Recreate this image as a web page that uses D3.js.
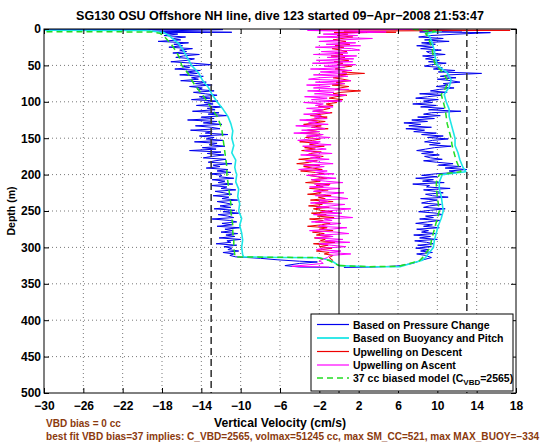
<!DOCTYPE html>
<html><head><meta charset="utf-8">
<script src="https://cdn.jsdelivr.net/npm/d3@7"></script>
<style>
body{margin:0;background:#fff;}
svg{display:block;font-family:"Liberation Sans",Arial,Helvetica,sans-serif;}
</style></head><body>
<svg id="chart" width="560" height="442"></svg>
<script>
// ---------- tick labels / axes ----------
const xTicks = [-30,-26,-22,-18,-14,-10,-6,-2,2,6,10,14,18];
const yTicks = [0,50,100,150,200,250,300,350,400,450,500];
const refLines = [-13,13];   // dashed reference velocities
const zeroLine = [0];

// ---------- depth grids (m) ----------
const gridDepth = [5,7,9,11,13,15,17,19,21,23,
25,27,29,31,33,35,37,39,41,43,
45,47,49,51,53,55,57,59,61,63,
65,67,69,71,73,75,77,79,81,83,
85,87,89,91,93,95,97,99,101,103,
105,107,109,111,113,115,117,119,121,123,
125,127,129,131,133,135,137,139,141,143,
145,147,149,151,153,155,157,159,161,163,
165,167,169,171,173,175,177,179,181,183,
185,187,189,191,193,195,197,199,201,203,
205,207,209,211,213,215,217,219,221,223,
225,227,229,231,233,235,237,239,241,243,
245,247,249,251,253,255,257,259,261,263,
265,267,269,271,273,275,277,279,281,283,
285,287,289,291,293,295,297,299,301,303,
305,307,309,311];
const coarseDepth = [10,20,30,40,50,60,70,80,90,100,110,120,130,140,150,160,170,180,190,196,200,210,220,230,240,250,260,270,280,290,300,310];

// ---------- Based on Pressure Change (cm/s) ----------
const blueDown = [-18.2,-16.4,-17.8,-15.6,-17.0,-16.1,-18.4,-15.3,-16.8,-15.9,
-17.3,-14.9,-16.2,-15.5,-16.9,-14.2,-15.8,-16.6,-14.7,-15.4,
-17.1,-14.8,-13.0,-15.9,-15.2,-16.7,-14.1,-15.5,-14.4,-16.2,
-13.8,-15.0,-14.3,-16.1,-13.5,-14.6,-12.9,-15.2,-13.9,-14.4,
-12.7,-14.8,-13.6,-12.4,-14.2,-13.1,-15.0,-12.3,-13.7,-12.8,
-14.5,-11.9,-13.4,-12.6,-14.9,-12.2,-13.3,-11.4,-14.0,-12.7,
-15.4,-12.4,-13.8,-11.9,-14.6,-13.0,-12.1,-15.1,-12.9,-13.6,
-11.3,-14.2,-12.7,-13.5,-11.8,-14.7,-12.4,-13.2,-11.6,-13.9,
-12.5,-15.2,-12.0,-13.4,-11.7,-12.9,-13.8,-11.5,-12.6,-13.3,
-10.9,-12.8,-12.1,-13.5,-11.3,-12.4,-11.0,-13.1,-11.9,-12.2,
-10.7,-12.9,-11.6,-12.3,-10.8,-13.0,-11.4,-12.0,-10.5,-12.6,
-11.7,-10.9,-12.8,-11.2,-11.9,-10.3,-12.4,-11.5,-10.8,-12.1,
-11.0,-12.7,-10.6,-11.8,-10.2,-12.3,-11.3,-10.7,-12.9,-11.1,
-10.4,-11.9,-10.9,-12.4,-10.1,-11.6,-10.8,-12.0,-10.3,-11.5,
-10.6,-12.2,-10.0,-11.4,-11.0,-12.5,-10.4,-11.7,-10.9,-11.3,
-10.2,-11.8,-10.7,-11.1];
const blueUp = [15.4,12.0,9.3,8.1,10.6,8.7,11.2,8.4,9.8,7.9,
9.6,8.3,10.4,8.9,9.2,10.8,8.5,9.7,8.8,10.2,
9.1,10.9,9.4,8.7,10.5,9.6,11.8,10.1,14.5,11.2,
10.3,11.9,10.0,11.4,12.3,10.6,11.1,9.9,11.7,10.2,
9.3,11.0,8.2,10.4,9.0,7.8,10.1,8.6,9.5,7.5,
9.9,8.3,10.7,9.1,12.4,9.4,8.6,10.3,8.0,9.7,
7.4,9.0,6.6,8.3,7.1,9.4,6.8,8.7,7.6,9.9,
8.4,10.6,9.0,11.1,9.5,8.7,10.3,9.2,11.4,9.7,
8.8,7.9,9.6,8.4,10.2,8.7,9.3,10.5,8.6,9.9,
11.6,10.1,12.4,10.8,13.0,11.2,12.0,9.8,8.4,10.0,
7.8,9.6,8.5,10.7,7.5,9.2,8.9,11.3,8.6,9.8,
10.6,8.8,9.5,11.1,8.3,10.0,9.1,8.4,10.4,9.2,
8.6,10.8,9.3,8.1,9.9,10.5,8.8,9.6,8.2,10.3,
9.0,7.8,9.5,8.6,10.2,7.9,9.1,8.4,9.8,7.6,
9.3,8.2,10.0,7.7,8.9,9.6,8.0,9.4,7.8,9.1,
8.3,9.5,7.9,8.8];
const blueDownTop = [[0.5,-45],[0.8,-11.8],[3,-19.0],[4.5,-10.9]];
const blueDownBottom = [[313,-10.5],[315,-8.0],[317,-6.3],[319,-4.0],[320,-2.2],[322,-4.0],[325,-5.5],[327,-4.0],[327.5,-0.5]];
const blueUpTop = [[0,-4.0],[1,9.5],[2.5,12.5],[4,8.2]];
const blueUpBottom = [[314,9.4],[318,8.3],[322,7.5],[325.5,6.0],[327,3.5],[327.5,0.5]];

// ---------- Based on Buoyancy and Pitch (cm/s) ----------
const cyanDown = [-17.2,-16.3,-15.8,-15.4,-15.0,-14.3,-13.9,-13.3,-12.9,-12.4,-11.8,-11.3,-11.0,-10.8,-10.9,-10.7,-10.9,-10.5,-10.6,-10.5,-10.4,-10.5,-10.2,-10.3,-10.1,-10.2,-9.9,-10.1,-9.9,-9.8,-9.9,-9.8];
const cyanUp = [9.2,9.5,9.7,9.8,10.0,11.0,11.4,11.2,10.7,10.9,11.2,11.2,11.4,11.6,11.8,11.8,12.1,12.3,12.6,12.9,10.5,10.2,10.2,10.4,10.5,10.6,10.4,10.1,9.9,9.7,9.6,9.0];
const cyanDownTop = [[1.5,-45],[2,-19.5],[5,-17.8]];
const cyanDownBottom = [[313,-9.7],[313.8,-6],[314.2,-2],[318,-0.8],[325,0]];
const cyanUpTop = [[0.5,8.0],[3,10.4],[6,8.8]];
const cyanUpBottom = [[314,8.8],[318,8.4],[322,7.3],[326.5,6.2],[326.5,3.0],[325,0]];

// ---------- Upwelling on Descent / Ascent (cm/s) ----------
const redDown = [-0.5,0.9,-0.2,1.4,0.3,-0.6,0.7,-0.1,1.1,-0.4,
0.5,-0.7,0.2,0.8,-0.4,0.4,-0.8,0.6,-0.1,1.0,
-0.5,0.4,-0.2,1.3,0.1,-0.4,0.9,0.3,2.6,-0.1,
0.7,-0.6,0.4,1.2,-0.3,0.6,-0.7,1.0,0.1,-0.4,
2.2,0.2,-0.6,0.8,-0.3,-1.0,0.4,-0.8,-0.2,-1.3,
-0.6,-2.1,-0.9,-1.6,-2.6,-0.7,-1.8,-2.9,-1.2,-2.2,
-3.3,-1.4,-2.5,-3.6,-1.8,-2.8,-1.1,-3.2,-2.0,-3.9,
-1.7,-2.6,-3.4,-1.9,-2.7,-4.0,-2.1,-3.0,-1.5,-3.5,
-2.4,-3.8,-1.8,-2.9,-3.3,-1.6,-2.5,-4.1,-2.2,-3.0,
-4.3,-2.0,-3.6,-2.7,-1.7,-3.9,-2.4,-1.5,-3.1,-2.2,
-1.2,-2.8,-1.9,-3.4,-0.9,-2.3,-1.6,-3.0,-1.1,-2.5,
-1.8,-3.2,-0.8,-2.1,-1.4,-2.9,-0.6,-2.4,-1.7,-3.1,
-1.0,-2.6,-1.9,-0.7,-2.8,-1.3,-2.2,-0.5,-3.0,-1.6,
-2.4,-0.9,-1.8,-3.2,-1.2,-2.0,-0.6,-2.7,-1.5,-2.3,
-0.8,-2.5,-1.4,-1.9,-0.4,-2.6,-1.1,-2.0,-0.7,-1.7,
-2.3,-0.9,-1.5,-0.6];
const magentaUp = [2.8,-1.6,1.9,-2.2,3.4,0.2,-2.0,1.7,-1.3,2.2,
-2.4,1.3,2.1,-1.8,0.9,-2.6,1.8,-1.2,1.5,-2.3,
1.4,-2.7,1.7,-1.5,0.6,-2.9,1.3,-1.9,0.8,-2.6,
0.9,-2.0,-3.1,1.2,-2.4,0.6,-3.3,-0.9,-2.6,1.0,
-3.2,-0.5,-2.5,0.7,-3.5,-1.2,-2.8,0.3,-3.6,-1.6,
-2.4,-0.6,-3.3,-1.6,-2.7,-0.9,-3.6,-1.8,-2.5,-1.2,
-4.0,-2.2,-3.1,-1.1,-4.4,-2.5,-1.4,-3.8,-2.0,-4.6,
-1.6,-3.3,-0.9,-2.8,-4.2,-1.9,-3.0,-0.8,-3.7,-2.3,
-1.3,-3.5,-2.6,-0.7,-3.9,-1.8,-2.9,-1.0,-3.4,-2.2,
-0.6,-3.6,-1.5,-2.7,-4.1,-1.2,-2.4,-0.5,-3.3,-1.9,
-0.3,-2.8,-1.4,0.4,-2.5,-1.0,-3.0,0.1,-1.7,-2.6,
0.5,-1.3,-2.4,-0.2,0.9,-2.0,-1.1,-2.9,0.6,-0.8,
-2.3,1.2,-0.5,-1.8,0.3,-2.6,-0.1,1.4,-1.5,-0.7,
-2.8,0.2,-1.2,-2.1,0.8,-0.9,-3.0,-0.3,1.0,-1.9,
-0.6,-2.4,0.4,-1.4,1.1,-2.0,-0.8,0.7,-1.6,-2.3,
0.2,-1.0,1.2,-0.9];
const redDownTop = [[0.5,-2.0],[1.8,17.4],[3,0.5],[4.5,5.8]];
const redDownBottom = [[314,-1.0],[318,-0.6]];
const magentaUpTop = [[0.3,9.0],[2,-3.2],[4,4.8]];
const magentaUpBottom = [[314,-1.2],[318,-2.0],[322,-1.6],[326,-4.8],[327,-1.0]];

// ---------- 37 cc biased model (cm/s) ----------
const greenDown = [-17.8,-17.1,-16.6,-16.2,-16.0,-15.4,-15.0,-14.5,-13.9,-13.4,-12.9,-12.4,-12.1,-11.9,-11.8,-11.7,-11.6,-11.5,-11.4,-11.4,-11.4,-11.3,-11.2,-11.1,-11.0,-11.0,-10.9,-10.8,-10.8,-10.7,-10.7,-10.6];
const greenUp = [9.0,9.3,9.5,9.6,9.8,10.6,11.0,10.9,10.4,10.6,10.8,10.9,11.0,11.2,11.4,11.5,11.7,11.9,12.2,12.4,10.2,9.9,9.9,10.0,10.1,10.2,10.0,9.8,9.6,9.4,9.3,8.7];
const greenDownTop = [[3.5,-45],[4,-19.0],[6,-18.2]];
const greenDownBottom = [[313,-10.6],[313.6,-6],[314,-2.2],[318,-1.0],[325,0]];
const greenUpTop = [[0.5,7.5],[3,9.8],[6,8.8]];
const greenUpBottom = [[314,8.5],[318,8.2],[322,7.2],[326,6.0],[326.5,3.0],[325,0]];

const legendLabels = ["Based on Pressure Change","Based on Buoyancy and Pitch","Upwelling on Descent","Upwelling on Ascent"];
const titleText = "SG130 OSU Offshore NH line, dive 123 started 09\u2212Apr\u22122008 21:53:47";
const note1 = "VBD bias = 0 cc";
const note2 = "best fit VBD bias=37 implies: C_VBD=2565, volmax=51245 cc, max SM_CC=521, max MAX_BUOY=\u2212334";

// ---------- layout ----------
const L=44, R=516, T=29, B=393;
const x = d3.scaleLinear().domain([-30,18]).range([L,R]);
const y = d3.scaleLinear().domain([0,500]).range([T,B]);
const fmt = v => (v<0 ? "\u2212"+Math.abs(v) : String(v));

const svg = d3.select("#chart");
svg.append("rect").attr("width",560).attr("height",442).attr("fill","#fff");
svg.append("defs").append("clipPath").attr("id","clip")
  .append("rect").attr("x",L).attr("y",T).attr("width",R-L).attr("height",B-T);

// grid
const grid = svg.append("g");
grid.selectAll("line.v").data(xTicks.filter(v=>v>-30&&v<18)).enter().append("line")
  .attr("x1",d=>x(d)).attr("x2",d=>x(d)).attr("y1",T).attr("y2",B)
  .attr("stroke","#555").attr("stroke-width",0.8).attr("stroke-dasharray","1,3");
grid.selectAll("line.h").data(yTicks.filter(v=>v>0&&v<500)).enter().append("line")
  .attr("x1",L).attr("x2",R).attr("y1",d=>y(d)).attr("y2",d=>y(d))
  .attr("stroke","#555").attr("stroke-width",0.8).attr("stroke-dasharray","1,3");

function build(top, vals, depths, bottom){
  return top.concat(depths.map((d,i)=>[d, vals[i]]), bottom);
}
const line = d3.line().x(p=>x(p[1])).y(p=>y(p[0]));
const series = [
  {pts: build(blueDownTop, blueDown, gridDepth, blueDownBottom), color:"#0000ee", w:1},
  {pts: build(blueUpTop, blueUp, gridDepth, blueUpBottom), color:"#0000ee", w:1},
  {pts: build(cyanDownTop, cyanDown, coarseDepth, cyanDownBottom), color:"#1ee6e6", w:1.6},
  {pts: build(cyanUpTop, cyanUp, coarseDepth, cyanUpBottom), color:"#1ee6e6", w:1.6},
  {pts: build(redDownTop, redDown, gridDepth, redDownBottom), color:"#ee0000", w:1},
  {pts: build(magentaUpTop, magentaUp, gridDepth, magentaUpBottom), color:"#ff00ff", w:1},
  {pts: build(greenDownTop, greenDown, coarseDepth, greenDownBottom), color:"#22dd22", w:1.5, dash:"6,4"},
  {pts: build(greenUpTop, greenUp, coarseDepth, greenUpBottom), color:"#22dd22", w:1.5, dash:"6,4"}
];
const dataG = svg.append("g").attr("clip-path","url(#clip)");
series.forEach(s=>{
  dataG.append("path").attr("d", line(s.pts)).attr("fill","none")
    .attr("stroke", s.color).attr("stroke-width", s.w)
    .attr("stroke-dasharray", s.dash||null).attr("stroke-linejoin","round");
});

// reference lines
svg.selectAll("line.ref").data(refLines).enter().append("line")
  .attr("x1",d=>x(d)).attr("x2",d=>x(d)).attr("y1",T).attr("y2",B)
  .attr("stroke","#3a3a3a").attr("stroke-width",1.6).attr("stroke-dasharray","7,4");
svg.selectAll("line.zero").data(zeroLine).enter().append("line")
  .attr("x1",d=>x(d)).attr("x2",d=>x(d)).attr("y1",T).attr("y2",B)
  .attr("stroke","#000").attr("stroke-width",1);

// axes
const axB = svg.append("g").attr("transform",`translate(0,${B})`)
  .call(d3.axisBottom(x).tickValues(xTicks).tickSizeInner(-5).tickSizeOuter(0).tickPadding(8).tickFormat(fmt));
const axL = svg.append("g").attr("transform",`translate(${L},0)`)
  .call(d3.axisLeft(y).tickValues(yTicks).tickSizeInner(-5).tickSizeOuter(0).tickPadding(3).tickFormat(d3.format("d")));
const axT = svg.append("g").attr("transform",`translate(0,${T})`)
  .call(d3.axisTop(x).tickValues(xTicks).tickSizeInner(-5).tickSizeOuter(0).tickFormat(""));
const axR = svg.append("g").attr("transform",`translate(${R},0)`)
  .call(d3.axisRight(y).tickValues(yTicks).tickSizeInner(-5).tickSizeOuter(0).tickFormat(""));
[axB,axL,axT,axR].forEach(a=>{
  a.select(".domain").remove();
  a.selectAll("text").attr("font-family","'Liberation Sans',Arial,sans-serif")
    .attr("font-size",12).attr("font-weight","bold").attr("fill","#000");
  a.selectAll("line").attr("stroke","#000");
});
svg.append("rect").attr("x",L).attr("y",T).attr("width",R-L).attr("height",B-T)
  .attr("fill","none").attr("stroke","#000").attr("stroke-width",1);

// texts
svg.append("text").attr("x",280).attr("y",20).attr("text-anchor","middle")
  .attr("font-size",12.5).attr("font-weight","bold").text(titleText);
svg.append("text").attr("x",280).attr("y",427).attr("text-anchor","middle")
  .attr("font-size",12.2).attr("font-weight","bold").text("Vertical Velocity (cm/s)");
svg.append("text").attr("transform","translate(15,211) rotate(-90)").attr("text-anchor","middle")
  .attr("font-size",10.5).attr("font-weight","bold").text("Depth (m)");
svg.append("text").attr("x",46).attr("y",427).attr("font-size",10).attr("font-weight","bold")
  .attr("fill","#8b3a0e").text(note1);
svg.append("text").attr("x",46).attr("y",440).attr("font-size",10.1).attr("font-weight","bold")
  .attr("fill","#8b3a0e").text(note2);

// legend
const lg = svg.append("g");
lg.append("rect").attr("x",311).attr("y",314).attr("width",202).attr("height",77)
  .attr("fill","#fff").attr("stroke","#000").attr("stroke-width",1);
const legItems = [
  {label: legendLabels[0], color:"#0000ee", w:1.2},
  {label: legendLabels[1], color:"#1ee6e6", w:1.8},
  {label: legendLabels[2], color:"#ee0000", w:1.2},
  {label: legendLabels[3], color:"#ff00ff", w:1.2},
  {label: null, color:"#22dd22", w:1.6, dash:"6,4"}
];
const rowY = [324.5,338,351.5,365,378];
legItems.forEach((it,i)=>{
  lg.append("line").attr("x1",317).attr("x2",349).attr("y1",rowY[i]).attr("y2",rowY[i])
    .attr("stroke",it.color).attr("stroke-width",it.w).attr("stroke-dasharray",it.dash||null);
  const t = lg.append("text").attr("x",353).attr("y",rowY[i]+4).attr("font-size",10.5).attr("font-weight","bold");
  if(it.label) t.text(it.label);
  else {
    t.append("tspan").text("37 cc biased model (C");
    t.append("tspan").attr("font-size",8).attr("dy",3).text("VBD");
    t.append("tspan").attr("dy",-3).text("=2565)");
  }
});
</script>
</body></html>
